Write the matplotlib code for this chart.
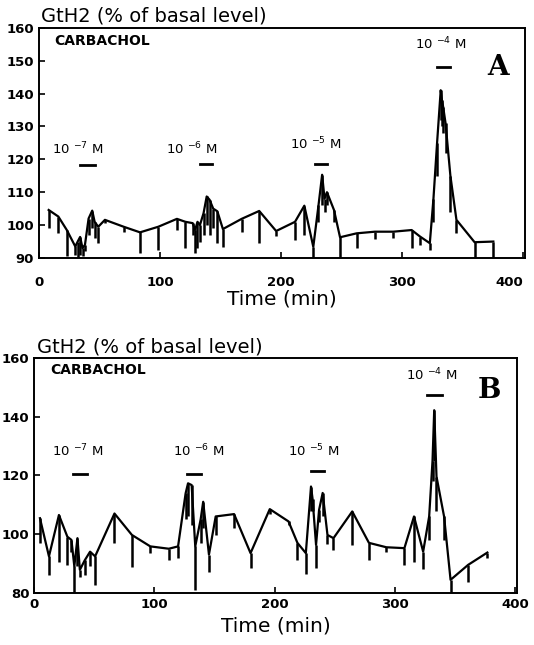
import numpy as np
import matplotlib
matplotlib.use("Agg")
import matplotlib.pyplot as plt

# Panel A : temps (min), GtH2 (% niveau basal), bas de la barre d'erreur
a_t = [8, 16, 23, 30, 32, 34, 36, 38, 41, 44, 46, 49, 54.5, 70, 83.5, 98.6,
       114, 121, 127, 129, 131, 133, 136, 138.6, 141, 144, 147.4, 152, 167.5,
       182, 196, 211.6, 219.3, 226.7, 231, 234, 236, 238, 243.8, 248.8, 262.5,
       277.7, 292.8, 308, 315, 323, 326, 329, 332, 333, 334, 336, 340, 345,
       360, 375.5]
a_val = [104.6, 102.6, 98.5, 93.5, 95, 96.4, 93, 94, 102, 104.4, 101, 99.5,
         101.6, 99.5, 97.8, 99.5, 101.9, 101, 100.6, 98.5, 101, 100, 103.6,
         108.7, 107.7, 105, 104.2, 98.8, 101.9, 104.3, 98.2, 101, 105.9, 93.4,
         106, 115.3, 108, 110, 104.6, 96.3, 97.5, 98, 98, 98.5, 96.5, 94.5,
         108, 125, 141, 138, 136, 131, 115, 101.6, 94.8, 95]
a_bas = [99, 97.5, 90.5, 91, 90, 91, 90.5, 92, 97, 99, 96, 94.5, 100.5, 98,
         91.5, 92.4, 98.5, 93, 97, 91.6, 93, 95, 97, 100, 97, 99, 94.5, 93.4,
         98, 94.6, 96.7, 95.5, 97, 90, 101, 106, 104, 106, 101, 90, 93, 95.8,
         96, 93, 94, 92.4, 101, 115, 132, 130, 128, 122, 104, 97.6, 90, 90]

# Panel B
b_t = [4.8, 12.3, 20.6, 27.6, 31, 33.4, 36, 38, 42, 46.5, 50.7, 66.8, 81.3,
       96.6, 112, 119.7, 126, 128, 131, 134, 138.5, 140.6, 145.4, 151, 166.3,
       180, 196, 211.6, 219, 226, 230.3, 231.6, 234.5, 237, 240, 244, 249,
       264.6, 278.5, 293, 308, 316, 323.6, 328.6, 331.4, 332.8, 334.7, 341,
       346.4, 361, 377]
b_val = [105.4, 92.4, 106.5, 99.1, 98, 89, 98.6, 87.8, 91, 94, 92.4, 107,
         99.7, 95.8, 95, 95.8, 113.9, 117.3, 116.7, 95.8, 105, 111, 93, 106,
         106.8, 93.5, 108.5, 104.3, 97, 93.5, 116.2, 112, 96.3, 108.2, 114,
         99.7, 98.6, 107.7, 97, 95.5, 95.2, 106, 94, 106, 125, 142.2, 119.6,
         106, 84.4, 89.5, 93.7]
b_bas = [97, 86, 90.6, 89.5, 94, 80, 89, 85.5, 86, 89, 82.7, 97, 88.9, 93.6,
         91, 92, 105, 106, 103, 81, 97, 102, 87, 99.7, 102, 88.5, 107, 103,
         91.2, 86.5, 108, 108, 88.5, 104, 106, 96.5, 94.6, 96.3, 91, 94, 89.5,
         90.6, 88, 98, 118, 125, 108, 98, 80, 83.8, 92]

# concentrations de carbachol (exposants), position des textes et des barres
conc = ["-7", "-6", "-5", "-4"]
a_txt_x = [32, 126, 229, 332]
a_txt_y = [120.5, 120.5, 122, 152.5]
a_bar_x0 = [34, 133, 228, 329]
a_bar_x1 = [46, 143, 238, 340]
a_bar_y = [118.3, 118.6, 118.6, 148.1]

b_txt_x = [36, 137, 233, 331]
b_txt_y = [125.5, 125.5, 125.5, 151.5]
b_bar_x0 = [32, 127, 230, 327]
b_bar_x1 = [44, 139, 241, 339]
b_bar_y = [120.5, 120.5, 121.5, 147.3]


def panneau(ax, t, val, bas, txt_x, txt_y, bx0, bx1, by, ymin, yticks,
            lettre, ylettre, xpad, labelpad):
    """Trace un panneau : courbe, barres d'erreur vers le bas, annotations."""
    t = np.array(t)
    val = np.array(val)
    bas = np.array(bas)
    ax.plot(t, val, color="black", lw=1.6)
    ax.vlines(t, bas, val, color="black", lw=1.8)

    for c, x, y, x0, x1, yb in zip(conc, txt_x, txt_y, bx0, bx1, by):
        ax.text(x, y, r"10 $^{%s}$ M" % c, ha="center", va="bottom", fontsize=9.5)
        ax.plot([x0, x1], [yb, yb], color="black", lw=2)

    ax.text(13, 156, "CARBACHOL", fontsize=10, fontweight="bold", va="center")
    ax.text(0.968, (ylettre - ymin) / (160 - ymin), lettre, transform=ax.transAxes,
            ha="right", va="center", fontsize=20, fontweight="bold",
            family="DejaVu Serif")

    ax.set_xlim(0, 401.6)
    ax.set_ylim(ymin, 160)
    ax.set_xticks([0, 100, 200, 300, 400])
    ax.set_yticks(yticks)
    ax.tick_params(direction="in", length=4, width=1.2, labelsize=9.5)
    ax.tick_params(axis="x", pad=xpad)
    for lab in ax.get_xticklabels() + ax.get_yticklabels():
        lab.set_fontweight("bold")
    for s in ax.spines.values():
        s.set_linewidth(1.4)
    ax.set_xlabel("Time (min)", fontsize=14.5, labelpad=labelpad)
    ax.text(0.005, 1.008, "GtH2 (% of basal level)", transform=ax.transAxes,
            ha="left", va="bottom", fontsize=14)


fig = plt.figure(figsize=(5.34, 6.45), dpi=100)
ax1 = fig.add_axes([0.073, 0.600, 0.910, 0.357])
ax2 = fig.add_axes([0.064, 0.081, 0.904, 0.364])

panneau(ax1, a_t, a_val, a_bas, a_txt_x, a_txt_y, a_bar_x0, a_bar_x1, a_bar_y,
        90, range(90, 161, 10), "A", 148, 13, 0)
panneau(ax2, b_t, b_val, b_bas, b_txt_x, b_txt_y, b_bar_x0, b_bar_x1, b_bar_y,
        80, range(80, 161, 20), "B", 149, 4, 4)

# le 400 du panneau A est collé au bord droit
ax1.get_xticklabels()[-1].set_horizontalalignment("right")

fig.savefig("out.png", dpi=100)
